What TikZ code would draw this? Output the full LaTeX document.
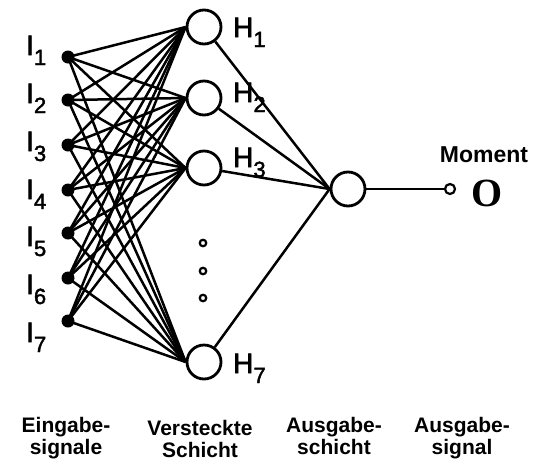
\documentclass[tikz,border=0pt]{standalone}
\usepackage{fontspec}
\setmainfont{Liberation Sans}
\newfontfamily\oserif{Liberation Serif}
\newfontfamily\labfont[FakeBold=2]{Liberation Sans}
\newcommand\sbs[1]{\raisebox{-10pt}{\fontsize{22}{22}\selectfont #1}}
\begin{document}
\begin{tikzpicture}[x=1pt,y=-1pt,
  neuron/.style={circle,draw,line width=2.8pt,minimum size=34pt,inner sep=0pt,fill=white},
  inp/.style={circle,fill=black,minimum size=13pt,inner sep=0pt},
  vdot/.style={circle,draw,line width=2.2pt,minimum size=6.5pt,inner sep=0pt},
  smallout/.style={circle,draw,line width=2.2pt,minimum size=10pt,inner sep=0pt},
  conn/.style={line width=2.5pt},
  lab/.style={anchor=base west,font=\labfont\fontsize{28}{28}\selectfont,inner sep=0pt},
  captxt/.style={align=center,font=\bfseries\fontsize{21}{22}\selectfont,inner sep=0pt,anchor=north}]
\useasboundingbox (0,0) rectangle (549,472);

% input dots
\foreach \k/\y in {1/57,2/100,3/145,4/190,5/233,6/278,7/321}{
  \node[inp] (i\k) at (68,\y) {};
}
% input labels
\foreach \k/\y in {1/55,2/103,3/151,4/199,5/246,6/294,7/342}{
  \node[lab] (li\k) at (26,\y) {I\sbs{\k}};
}
% hidden neurons
\node[neuron] (h1) at (204,27) {};
\node[neuron] (h2) at (204,98) {};
\node[neuron] (h3) at (204,168) {};
\node[neuron] (h7) at (204,362) {};
% vertical dots
\node[vdot] (d1) at (203,243) {};
\node[vdot] (d2) at (203,271) {};
\node[vdot] (d3) at (203,298) {};
% hidden labels
\node[lab] (lh1) at (233,37) {H\sbs{1}};
\node[lab] (lh2) at (233,102) {H\sbs{2}};
\node[lab] (lh3) at (233,167) {H\sbs{3}};
\node[lab] (lh7) at (233,373) {H\sbs{7}};
% output neuron
\node[neuron] (o) at (348,189) {};
\node[smallout] (so) at (450,189) {};
\node[anchor=base,inner sep=0pt,font=\oserif\bfseries\fontsize{40}{40}\selectfont] (olab) at (487,206) {O};
\node[anchor=base,inner sep=0pt,font=\bfseries\fontsize{23}{23}\selectfont] (mom) at (484,162) {Moment};

% connections input -> hidden
\foreach \k in {1,...,7}{
  \foreach \h in {h1,h2,h3,h7}{
    \draw[conn] (i\k.center) -- (\h.west);
  }
}
% hidden -> output
\foreach \h in {h1,h2,h3,h7}{
  \draw[conn] (\h) -- (o.west);
}
\draw[conn] (o.east) -- (so.west);

% captions
\node[captxt] (c1) at (66,417) {Eingabe-\\signale};
\node[captxt] (c2) at (200,420) {Versteckte\\Schicht};
\node[captxt] (c3) at (334,417) {Ausgabe-\\schicht};
\node[captxt] (c4) at (462,417) {Ausgabe-\\signal};
\end{tikzpicture}
\end{document}
